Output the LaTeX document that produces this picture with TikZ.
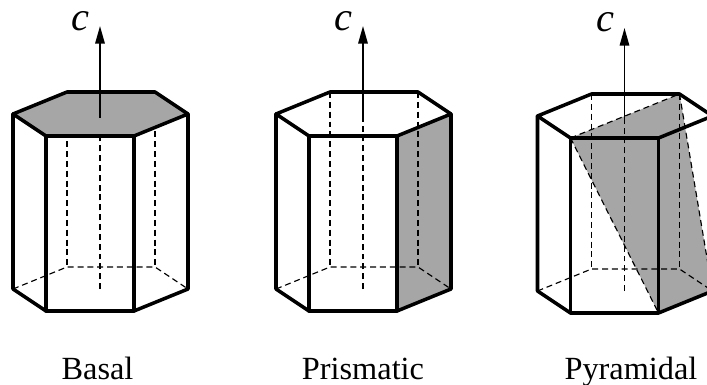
\documentclass[tikz,border=0pt]{standalone}
\usepackage{fontspec}
\setmainfont{Liberation Serif}
\usetikzlibrary{arrows.meta}
\definecolor{planegray}{HTML}{A6A6A6}
\tikzset{
  edge/.style={line width=2pt,line join=round,line cap=round},
  hidden/.style={line width=0.65pt,dash pattern=on 3.4pt off 2.2pt},
  plane/.style={fill=planegray,draw=none},
  axis/.style={line width=0.85pt,-{Stealth[length=10pt,width=5.4pt,inset=0pt]}},
  caxis/.style={font=\fontsize{23}{23}\selectfont\itshape,anchor=base,inner sep=0pt},
  label/.style={font=\fontsize{18.4}{20}\selectfont,anchor=base,inner sep=0pt}
}
\begin{document}
\begin{tikzpicture}[x=0.02cm,y=-0.02cm]
  \clip (0,0) rectangle (707,385);

  % corners of each prism
  \foreach \name/\dx/\dy in {bas/0/0,pri/263/0,pyr/524.5/2}{
    \coordinate (\name tl) at (13+\dx,114+\dy);
    \coordinate (\name tb) at (67+\dx,92+\dy);
    \coordinate (\name tc) at (155+\dx,92+\dy);
    \coordinate (\name tr) at (188+\dx,114+\dy);
    \coordinate (\name tq) at (134+\dx,136+\dy);
    \coordinate (\name tf) at (46+\dx,136+\dy);
    \coordinate (\name bl) at (13+\dx,289+\dy);
    \coordinate (\name bb) at (67+\dx,267+\dy);
    \coordinate (\name bc) at (155+\dx,267+\dy);
    \coordinate (\name br) at (188+\dx,289+\dy);
    \coordinate (\name bq) at (134+\dx,311+\dy);
    \coordinate (\name bf) at (46+\dx,311+\dy);
    \coordinate (\name axb) at (100+\dx,289+\dy);
    \coordinate (\name axm) at (100+\dx,118+\dy);
    \coordinate (\name axt) at (100+\dx,26+\dy);
  }

  % shaded planes
  \fill[plane] (pritq) -- (pritr) -- (pribr) -- (pribq) -- cycle;
  \fill[plane] (pyrtf) -- (pyrtc) -- (pyrbr) -- (pyrbq) -- cycle;

  % hidden edges
  \foreach \name in {bas,pri,pyr}{
    \draw[hidden] (\name tb) -- (\name bb);
    \draw[hidden] (\name tc) -- (\name bc);
    \draw[hidden] (\name bl) -- (\name bb) -- (\name bc) -- (\name br);
    \draw[hidden] (\name axb) -- (\name axm);
  }
  \draw[hidden] (pyrtf) -- (pyrtc);
  \draw[hidden] (pyrtf) -- (pyrbq);
  \draw[hidden] (pyrtc) -- (pyrbr);

  % basal plane hides the back edges
  \fill[plane] (bastl) -- (bastb) -- (bastc) -- (bastr) -- (bastq) -- (bastf) -- cycle;

  % axes and outlines
  \foreach \name in {bas,pri,pyr}{
    \draw[axis] (\name axm) -- (\name axt);
    \draw[edge] (\name tl) -- (\name tb) -- (\name tc) -- (\name tr) -- (\name tq) -- (\name tf) -- cycle;
    \draw[edge] (\name tl) -- (\name bl) -- (\name bf) -- (\name bq) -- (\name br) -- (\name tr);
    \draw[edge] (\name tf) -- (\name bf);
    \draw[edge] (\name tq) -- (\name bq);
  }

  % labels
  \node[caxis] (basc) at (80,31) {c};
  \node[caxis] (pric) at (343,31) {c};
  \node[caxis] (pyrc) at (605,32) {c};
  \node[label] (baslabel) at (97.5,379) {Basal};
  \node[label] (prilabel) at (363,379) {Prismatic};
  \node[label] (pyrlabel) at (631,379) {Pyramidal};
\end{tikzpicture}
\end{document}
